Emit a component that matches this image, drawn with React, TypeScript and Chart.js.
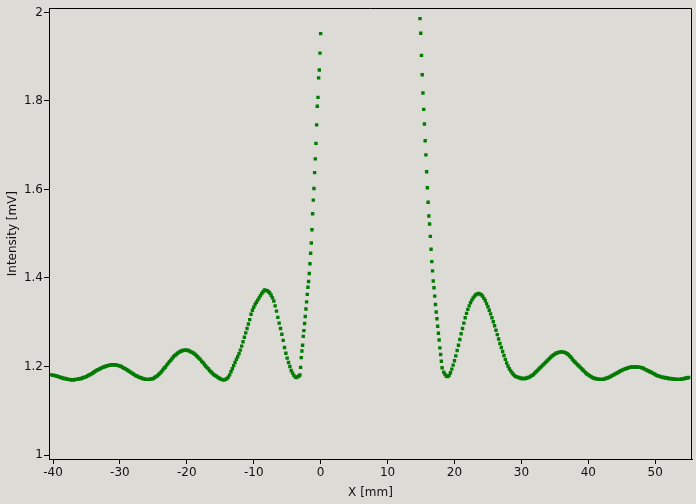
import { useEffect, useRef } from "react";
import { Chart, registerables } from "chart.js";

Chart.register(...registerables);

// Left smooth part: x = -40.2 .. -3.2, step 0.2
const leftStart = -40.2;
const leftStep = 0.2;
const leftValues = [
  1.181, 1.18, 1.18, 1.179, 1.178, 1.177, 1.176, 1.175, 1.174, 1.173,
  1.173, 1.172, 1.171, 1.171, 1.17, 1.17, 1.17, 1.17, 1.171, 1.171,
  1.172, 1.172, 1.173, 1.174, 1.175, 1.176, 1.177, 1.179, 1.181, 1.182,
  1.184, 1.186, 1.188, 1.19, 1.192, 1.193, 1.195, 1.196, 1.198, 1.199,
  1.2, 1.201, 1.202, 1.203, 1.203, 1.204, 1.204, 1.204, 1.203, 1.203,
  1.202, 1.201, 1.2, 1.198, 1.196, 1.195, 1.193, 1.191, 1.189, 1.187,
  1.185, 1.183, 1.181, 1.179, 1.178, 1.176, 1.175, 1.174, 1.173, 1.172,
  1.171, 1.171, 1.171, 1.171, 1.172, 1.172, 1.173, 1.175, 1.177, 1.179,
  1.182, 1.185, 1.188, 1.192, 1.196, 1.199, 1.203, 1.207, 1.211, 1.214,
  1.218, 1.222, 1.225, 1.227, 1.23, 1.232, 1.234, 1.235, 1.236, 1.237,
  1.237, 1.237, 1.236, 1.235, 1.233, 1.232, 1.23, 1.228, 1.225, 1.222,
  1.219, 1.216, 1.212, 1.209, 1.205, 1.201, 1.198, 1.195, 1.191, 1.188,
  1.185, 1.182, 1.18, 1.178, 1.176, 1.174, 1.172, 1.171, 1.17, 1.17,
  1.171, 1.173, 1.176, 1.181, 1.188, 1.195, 1.202, 1.209, 1.216, 1.222,
  1.229, 1.237, 1.246, 1.256, 1.266, 1.276, 1.286, 1.296, 1.306, 1.318,
  1.327, 1.334, 1.34, 1.345, 1.35, 1.355, 1.36, 1.365, 1.369, 1.373,
  1.372, 1.371, 1.369, 1.366, 1.361, 1.355, 1.348, 1.337, 1.325, 1.311,
  1.298, 1.286, 1.273, 1.259, 1.243, 1.23, 1.219, 1.209, 1.2, 1.191,
  1.185, 1.18, 1.176, 1.175, 1.177, 1.179,
];

// Left steep edge: x = -3.1 .. 0.0, step 0.1
const leftSteepStart = -3.1;
const leftSteepStep = 0.1;
const leftSteepValues = [
  1.181, 1.198, 1.22, 1.235, 1.248, 1.268, 1.281, 1.297, 1.313, 1.33,
  1.346, 1.363, 1.379, 1.392, 1.41, 1.432, 1.456, 1.479, 1.509, 1.545,
  1.576, 1.602, 1.638, 1.669, 1.704, 1.746, 1.788, 1.808, 1.852, 1.87,
  1.908, 1.952,
];

// Right steep edge: x = 14.85 .. 18.15, step 0.11
const rightSteepStart = 14.85;
const rightSteepStep = 0.11;
const rightSteepValues = [
  1.986, 1.953, 1.903, 1.859, 1.818, 1.781, 1.748, 1.71, 1.678, 1.64,
  1.604, 1.571, 1.54, 1.522, 1.494, 1.465, 1.437, 1.416, 1.393, 1.378,
  1.359, 1.34, 1.323, 1.308, 1.291, 1.275, 1.26, 1.242, 1.227, 1.212,
  1.197,
];

// Right smooth part: x = 18.4 .. 55.0, step 0.2
const rightStart = 18.4;
const rightStep = 0.2;
const rightValues = [
  1.187, 1.182, 1.178, 1.177, 1.18, 1.186, 1.194, 1.203, 1.213,
  1.224, 1.236, 1.248, 1.261, 1.274, 1.286, 1.298, 1.31, 1.32, 1.329,
  1.337, 1.344, 1.35, 1.355, 1.359, 1.362, 1.364, 1.365, 1.364, 1.362,
  1.359, 1.354, 1.349, 1.342, 1.335, 1.327, 1.319, 1.31, 1.301, 1.292,
  1.282, 1.272, 1.262, 1.252, 1.243, 1.234, 1.225, 1.216, 1.208, 1.201,
  1.195, 1.19, 1.186, 1.182, 1.179, 1.177, 1.176, 1.175, 1.174, 1.173,
  1.173, 1.173, 1.173, 1.174, 1.175, 1.176, 1.178, 1.18, 1.182, 1.185,
  1.188, 1.191, 1.194, 1.197, 1.2, 1.203, 1.206, 1.209, 1.212, 1.215,
  1.218, 1.221, 1.224, 1.226, 1.228, 1.23, 1.231, 1.232, 1.233, 1.233,
  1.233, 1.232, 1.231, 1.229, 1.227, 1.224, 1.221, 1.217, 1.213, 1.21,
  1.207, 1.204, 1.201, 1.198, 1.195, 1.192, 1.189, 1.186, 1.183, 1.181,
  1.179, 1.177, 1.175, 1.174, 1.173, 1.172, 1.172, 1.171, 1.171, 1.171,
  1.171, 1.172, 1.173, 1.174, 1.175, 1.176, 1.178, 1.18, 1.181, 1.183,
  1.185, 1.186, 1.188, 1.19, 1.191, 1.193, 1.194, 1.195, 1.196, 1.197,
  1.198, 1.199, 1.199, 1.199, 1.199, 1.199, 1.199, 1.198, 1.198, 1.197,
  1.196, 1.194, 1.193, 1.191, 1.19, 1.188, 1.187, 1.185, 1.184, 1.182,
  1.18, 1.179, 1.178, 1.177, 1.176, 1.175, 1.175, 1.174, 1.174, 1.173,
  1.173, 1.172, 1.172, 1.172, 1.171, 1.171, 1.171, 1.171, 1.171, 1.172,
  1.172, 1.173, 1.174, 1.174, 1.175,
];

const xTicks = [-40, -30, -20, -10, 0, 10, 20, 30, 40, 50];
const yTicks = [1, 1.2, 1.4, 1.6, 1.8, 2];
const xTitle = "X [mm]";
const yTitle = "Intensity [mV]";

const BG = "#dcdbd6";
const GREEN = "#037b03";
const FONT = { family: "'DejaVu Sans', sans-serif", size: 12 };

function toPoints(start: number, step: number, values: number[]) {
  return values.map((y, i) => ({ x: Math.round((start + i * step) * 1000) / 1000, y }));
}

export default function App() {
  const ref = useRef<HTMLCanvasElement | null>(null);

  useEffect(() => {
    document.body.style.margin = "0";
    document.body.style.background = BG;
    const canvas = ref.current;
    if (!canvas) return;

    const data = [
      ...toPoints(leftStart, leftStep, leftValues),
      ...toPoints(leftSteepStart, leftSteepStep, leftSteepValues),
      ...toPoints(rightSteepStart, rightSteepStep, rightSteepValues),
      ...toPoints(rightStart, rightStep, rightValues),
    ];

    const bgPlugin = {
      id: "bg",
      beforeDraw(chart: any) {
        const ctx = chart.ctx;
        ctx.save();
        ctx.fillStyle = BG;
        ctx.fillRect(0, 0, chart.width, chart.height);
        ctx.restore();
      },
      afterDraw(chart: any) {
        const { ctx, chartArea } = chart;
        ctx.save();
        ctx.strokeStyle = "#000";
        ctx.lineWidth = 1;
        ctx.beginPath();
        ctx.moveTo(Math.round(chartArea.left) + 0.5, Math.round(chartArea.top) + 0.5);
        ctx.lineTo(Math.round(chartArea.right) - 0.5, Math.round(chartArea.top) + 0.5);
        ctx.lineTo(Math.round(chartArea.right) - 0.5, Math.round(chartArea.bottom) + 0.5);
        ctx.stroke();
        ctx.restore();
      },
    };

    const chart = new Chart(canvas, {
      type: "scatter",
      data: {
        datasets: [
          {
            data,
            pointStyle: "rect",
            pointRadius: 2.4,
            pointBorderWidth: 0,
            backgroundColor: GREEN,
            borderColor: GREEN,
          },
        ],
      },
      options: {
        responsive: false,
        animation: false,
        devicePixelRatio: 1,
        layout: { padding: { top: 8, right: 4, left: 0, bottom: 0 } },
        plugins: { legend: { display: false }, tooltip: { enabled: false } },
        scales: {
          x: {
            type: "linear",
            min: -40.6,
            max: 55.5,
            afterFit: (s: any) => {
              s.height = 45;
            },
            afterBuildTicks: (s: any) => {
              s.ticks = xTicks.map((v) => ({ value: v }));
            },
            ticks: {
              color: "#111",
              font: FONT,
              padding: 2,
              maxRotation: 0,
              callback: (v: any) => String(v),
            },
            grid: {
              drawOnChartArea: false,
              drawTicks: true,
              tickLength: 5,
              tickColor: "#000",
              color: "#000",
            },
            border: { display: true, color: "#000", width: 1 },
            title: {
              display: true,
              text: xTitle,
              color: "#111",
              font: FONT,
              padding: { top: 4, bottom: 4 },
            },
          },
          y: {
            type: "linear",
            min: 0.991,
            max: 2.0095,
            afterFit: (s: any) => {
              s.width = 49;
            },
            afterBuildTicks: (s: any) => {
              s.ticks = yTicks.map((v) => ({ value: v }));
            },
            ticks: {
              color: "#111",
              font: FONT,
              padding: 1,
              callback: (v: any) => String(Number(Number(v).toFixed(1))),
            },
            grid: {
              drawOnChartArea: false,
              drawTicks: true,
              tickLength: 5,
              tickColor: "#000",
              color: "#000",
            },
            border: { display: true, color: "#000", width: 1 },
            title: {
              display: true,
              text: yTitle,
              color: "#111",
              font: FONT,
              padding: { top: 6, bottom: 6 },
            },
          },
        },
      },
      plugins: [bgPlugin],
    } as any);

    return () => chart.destroy();
  }, []);

  return (
    <div style={{ width: 696, height: 504, background: BG }}>
      <canvas ref={ref} width={696} height={504} style={{ display: "block", width: 696, height: 504 }} />
    </div>
  );
}
